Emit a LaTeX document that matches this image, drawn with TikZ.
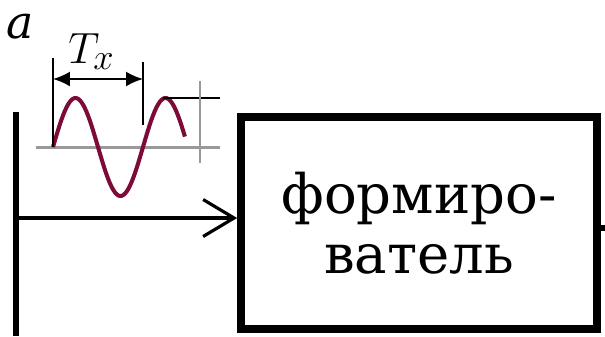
\documentclass[tikz,border=0pt]{standalone}
\usepackage{fontspec}
\setmainfont{DejaVu Serif}
\usetikzlibrary{positioning, arrows.meta, calc}
\definecolor{wavered}{RGB}{125,10,55}

\begin{document}
\begin{tikzpicture}[
        x=0.02cm, y=-0.02cm,
        blockbox/.style={rectangle, draw=black, line width=4.4pt, minimum width=7.12cm, minimum height=4.24cm, align=center, inner sep=0pt, font=\fontsize{31}{34}\selectfont},
        busline/.style={line width=3.4pt, black},
        arr/.style={-{Straight Barb[length=0.62cm, width=0.74cm]}, line width=1.8pt, black},
        wave/.style={line width=2.3pt, wavered},
        axis/.style={line width=1.7pt, gray!80},
        dimline/.style={line width=1.1pt, black},
        dimarr/.style={{Latex[length=0.34cm, width=0.3cm]}-{Latex[length=0.34cm, width=0.3cm]}, line width=1.1pt, black},
    ]
        \useasboundingbox (0,0) rectangle (605,336);

        % Figure letter
        \node[font=\fontsize{26}{26}\selectfont\itshape, inner sep=0pt, anchor=base] (fig) at (20,38) {а};

        % Input bus and shaper block
        \coordinate (busTop) at (16,112);
        \coordinate (busBot) at (16,336);
        \draw[busline] (busTop) -- (busBot);
        \node[blockbox] (form) at (419,223) {формиро-\\ватель};
        \coordinate (inpt) at ($(form.west)+(0,-5)$);
        \coordinate (outR) at (605,228);

        % Connections
        \draw[arr] (busTop |- inpt) -- (inpt);
        \draw[busline] (form.east |- outR) -- (outR);

        % Signal sketch
        \draw[axis] (36,147) coordinate (axL) -- (220,147) coordinate (axR);
        \draw[wave] plot[domain=0:1.4667, samples=80] ({53+90*\x}, {147-49*sin(360*\x)});

        % Period dimension
        \coordinate (t0) at (53,147);
        \coordinate (t1) at (143,125);
        \draw[dimline] (t0) -- (53,58);
        \draw[dimline] (t1) -- (143,62);
        \draw[dimarr] (53,79) -- (143,79);
        \node[font=\fontsize{30}{30}\selectfont, inner sep=0pt, anchor=base west] (period) at (68,63) {$T_x$};

        % Amplitude marker
        \coordinate (pk) at (163,98);
        \draw[dimline] (pk) -- (220,98);
        \draw[dimline, gray!80] (200,81) -- (200,163);
    \end{tikzpicture}
\end{document}
